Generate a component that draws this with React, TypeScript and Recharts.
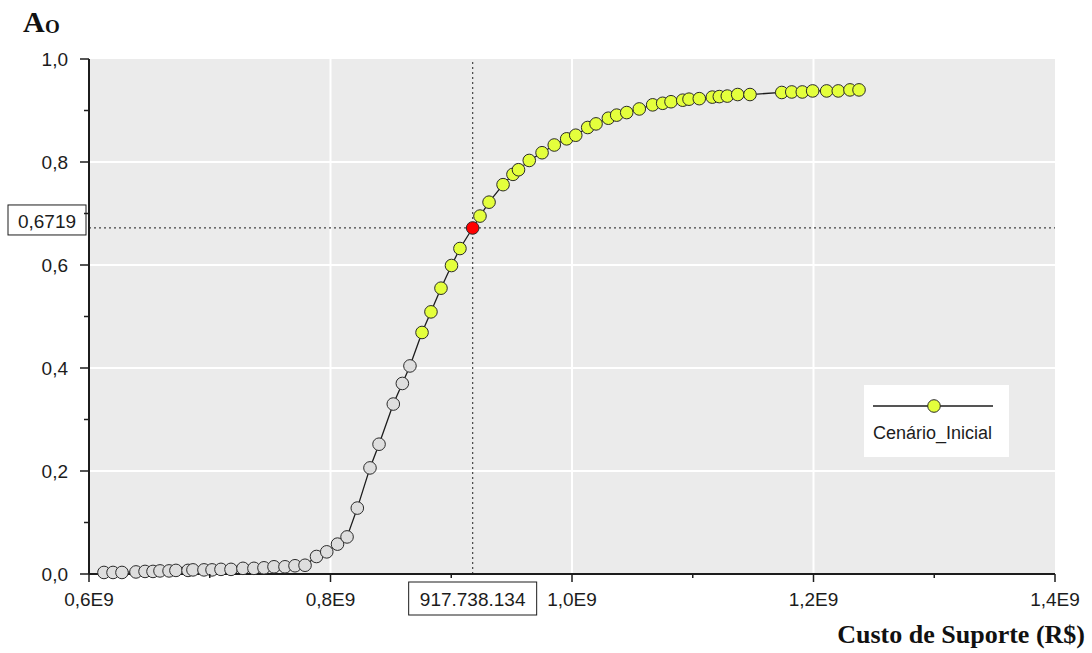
import React from 'react';
import { LineChart, Line, XAxis, YAxis, CartesianGrid, ReferenceLine, Legend } from 'recharts';

// custo de suporte em milhões de R$
const costs = [
  612.4, 619.9, 627.3, 638.9, 646.4, 653.0, 658.8, 666.3, 672.0, 682.0,
  686.1, 695.2, 701.9, 709.3, 717.6, 727.5, 736.6, 744.9, 753.2, 762.3,
  770.6, 778.9, 788.4, 796.9, 805.8, 813.7, 822.2, 832.7, 840.2, 852.0,
  859.5, 865.8,
  875.8, 883.2, 891.5, 900.2, 907.2, 917.738134, 923.8, 931.3, 942.9, 951.1,
  955.7, 964.6, 975.2, 985.3, 995.6, 1003.1, 1013.0, 1019.9, 1030.1, 1037.0,
  1045.3, 1055.7, 1066.8, 1075.1, 1082.0, 1091.7, 1096.9, 1105.4, 1116.2, 1122.0,
  1128.6, 1137.2, 1147.4, 1173.7, 1182.0, 1190.7, 1199.3, 1210.9, 1220.5, 1230.2,
  1237.7,
];

const availability = [
  0.003, 0.003, 0.003, 0.004, 0.005, 0.005, 0.006, 0.006, 0.007, 0.007,
  0.008, 0.008, 0.008, 0.009, 0.009, 0.011, 0.011, 0.012, 0.014, 0.014,
  0.016, 0.017, 0.034, 0.043, 0.058, 0.072, 0.128, 0.206, 0.252, 0.33,
  0.37, 0.404,
  0.469, 0.509, 0.555, 0.599, 0.632, 0.6719, 0.695, 0.722, 0.756, 0.776,
  0.785, 0.803, 0.818, 0.833, 0.845, 0.852, 0.867, 0.874, 0.885, 0.891,
  0.896, 0.903, 0.911, 0.914, 0.917, 0.92, 0.922, 0.923, 0.926, 0.927,
  0.928, 0.931, 0.931, 0.935, 0.936, 0.936, 0.938, 0.938, 0.938, 0.94,
  0.94,
];

const firstYellowIndex = 32;
const selectedCost = 917.738134;
const selectedAo = 0.6719;

const xTicks = [600, 700, 800, 900, 1000, 1100, 1200, 1300, 1400];
const yTicks = [0, 0.1, 0.2, 0.3, 0.4, 0.5, 0.6, 0.7, 0.8, 0.9, 1.0];
const xGrid = [800, 1000, 1200];
const yGrid = [0.2, 0.4, 0.6, 0.8];
const seriesName = 'Cenário_Inicial';

const GRAY = '#dedede';
const YELLOW = '#e4ff3c';
const RED = '#ff0000';
const INK = '#1c1c1c';
const SANS = '"Liberation Sans", Arial, sans-serif';
const SERIF = '"Liberation Serif", "Times New Roman", serif';

const data = costs.map((c, i) => ({ cost: c, ao: availability[i] }));

const fmtX = (v: number) => (v / 1000).toFixed(1).replace('.', ',') + 'E9';
const fmtY = (v: number) => v.toFixed(1).replace('.', ',');
const fmtMoney = (v: number) =>
  String(Math.round(v * 1e6)).replace(/\B(?=(\d{3})+(?!\d))/g, '.');

const XTick = (props: any) => {
  const { x, y, payload } = props;
  const major = payload.value % 200 === 0;
  return (
    <g>
      <line x1={x} x2={x} y1={y} y2={y + (major ? 8 : 4)} stroke={INK} strokeWidth={1.5} />
      {major && (
        <text x={x} y={y + 32} textAnchor="middle" fontSize={19} fontFamily={SANS} fill={INK}>
          {fmtX(payload.value)}
        </text>
      )}
    </g>
  );
};

const YTick = (props: any) => {
  const { x, y, payload } = props;
  const major = Math.round(payload.value * 10) % 2 === 0;
  return (
    <g>
      <line x1={x - (major ? 9 : 5)} x2={x} y1={y} y2={y} stroke={INK} strokeWidth={1.5} />
      {major && (
        <text x={x - 21} y={y + 7} textAnchor="end" fontSize={19} fontFamily={SANS} fill={INK}>
          {fmtY(payload.value)}
        </text>
      )}
    </g>
  );
};

const renderDot = (props: any) => {
  const { cx, cy, index, payload } = props;
  let fill = index < firstYellowIndex ? GRAY : YELLOW;
  if (payload.cost === selectedCost) fill = RED;
  return (
    <circle key={`dot-${index}`} cx={cx} cy={cy} r={6.3} fill={fill} stroke="#2a2a2a" strokeWidth={1} />
  );
};

const AoBox = (props: any) => {
  const { x, y } = props.viewBox;
  return (
    <g>
      <rect x={x - 81} y={y - 23} width={78} height={30} fill="#fff" stroke={INK} strokeWidth={1} />
      <text x={x - 42} y={y} textAnchor="middle" fontSize={19} fontFamily={SANS} fill={INK}>
        {selectedAo.toFixed(4).replace('.', ',')}
      </text>
    </g>
  );
};

const CostBox = (props: any) => {
  const { x, y, height } = props.viewBox;
  const bottom = y + height;
  return (
    <g>
      <rect x={x - 64} y={bottom + 8} width={128} height={33} fill="#fff" stroke={INK} strokeWidth={1} />
      <text x={x} y={bottom + 32} textAnchor="middle" fontSize={19} fontFamily={SANS} fill={INK}>
        {fmtMoney(selectedCost)}
      </text>
    </g>
  );
};

const LegendBox = () => (
  <div style={{ width: 145, height: 72, background: '#fff', position: 'relative' }}>
    <svg width={145} height={40} style={{ position: 'absolute', left: 0, top: 0 }}>
      <line x1={9} x2={129} y1={21} y2={21} stroke={INK} strokeWidth={1.3} />
      <circle cx={70} cy={21} r={6.3} fill={YELLOW} stroke="#2a2a2a" strokeWidth={1} />
    </svg>
    <div
      style={{
        position: 'absolute',
        left: 9,
        top: 38,
        fontFamily: SANS,
        fontSize: 18,
        lineHeight: '20px',
        color: INK,
        whiteSpace: 'nowrap',
      }}
    >
      {seriesName}
    </div>
  </div>
);

export default function App() {
  return (
    <div style={{ position: 'absolute', left: 0, top: 0, width: 1092, height: 653, background: '#fff' }}>
      <LineChart
        width={1092}
        height={653}
        data={data}
        margin={{ top: 59, right: 37, bottom: 78, left: 88 }}
      >
        <CartesianGrid
          fill="#ebebeb"
          fillOpacity={1}
          stroke="#ffffff"
          strokeWidth={2}
          horizontalValues={yGrid}
          verticalValues={xGrid}
        />
        <XAxis
          type="number"
          dataKey="cost"
          domain={[600, 1400]}
          ticks={xTicks}
          interval={0}
          height={1}
          tickSize={0}
          tickMargin={0}
          tickLine={false}
          tick={<XTick />}
          axisLine={{ stroke: INK, strokeWidth: 2 }}
        />
        <YAxis
          type="number"
          domain={[0, 1]}
          ticks={yTicks}
          interval={0}
          width={1}
          tickSize={0}
          tickMargin={0}
          tickLine={false}
          tick={<YTick />}
          axisLine={{ stroke: INK, strokeWidth: 2 }}
        />
        <ReferenceLine
          y={selectedAo}
          stroke="#444"
          strokeWidth={1.2}
          strokeDasharray="2 3"
          label={{ content: AoBox }}
        />
        <ReferenceLine
          x={selectedCost}
          stroke="#444"
          strokeWidth={1.2}
          strokeDasharray="2 3"
          label={{ content: CostBox }}
        />
        <Line
          type="linear"
          dataKey="ao"
          name={seriesName}
          stroke={INK}
          strokeWidth={1.3}
          dot={renderDot}
          activeDot={false}
          isAnimationActive={false}
        />
        <Legend
          layout="vertical"
          align="center"
          verticalAlign="middle"
          content={<LegendBox />}
          wrapperStyle={{ left: 864, top: 385, width: 145 }}
        />
      </LineChart>
      <svg
        width={1092}
        height={653}
        style={{ position: 'absolute', left: 0, top: 0, pointerEvents: 'none' }}
      >
        <text x={23} y={32} fontFamily={SERIF} fontWeight="bold" fontSize={30} fill="#111">
          A
        </text>
        <text x={45} y={33} fontFamily={SERIF} fontWeight="bold" fontSize={19} fill="#111">
          O
        </text>
        <text
          x={1085}
          y={643}
          textAnchor="end"
          fontFamily={SERIF}
          fontWeight="bold"
          fontSize={26}
          fill="#111"
        >
          Custo de Suporte (R$)
        </text>
      </svg>
    </div>
  );
}
